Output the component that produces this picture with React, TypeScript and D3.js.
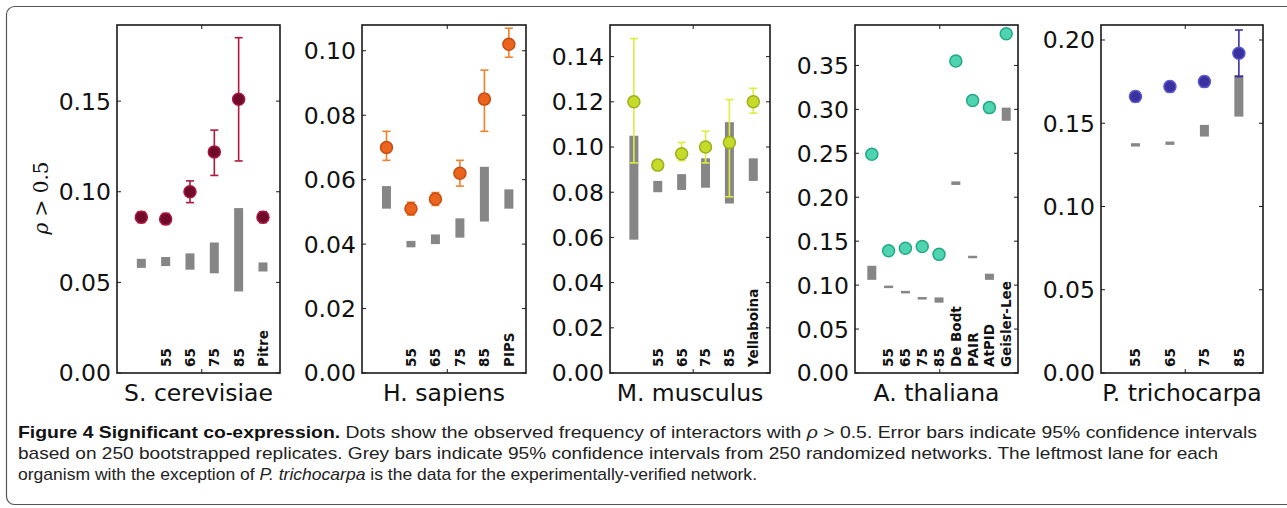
import React, { useLayoutEffect, useRef, useState } from "react";
import * as d3 from "d3";

// ---------- DATA ----------
const scerLabels = ["", "55", "65", "75", "85", "Pitre"];
const scerDots = [0.086, 0.085, 0.100, 0.122, 0.151, 0.086];
const scerErrLo = [0.083, 0.082, 0.094, 0.109, 0.117, 0.083];
const scerErrHi = [0.089, 0.088, 0.106, 0.134, 0.185, 0.089];
const scerGreyLo = [0.058, 0.059, 0.057, 0.055, 0.045, 0.056];
const scerGreyHi = [0.063, 0.064, 0.066, 0.072, 0.091, 0.061];
const scerTicks = [0.0, 0.05, 0.1, 0.15];

const hsapLabels = ["", "55", "65", "75", "85", "PIPS"];
const hsapDots = [0.070, 0.051, 0.054, 0.062, 0.085, 0.102];
const hsapErrLo = [0.066, 0.049, 0.052, 0.058, 0.075, 0.098];
const hsapErrHi = [0.075, 0.053, 0.056, 0.066, 0.094, 0.107];
const hsapGreyLo = [0.051, 0.039, 0.040, 0.042, 0.047, 0.051];
const hsapGreyHi = [0.058, 0.041, 0.043, 0.048, 0.064, 0.057];
const hsapTicks = [0.0, 0.02, 0.04, 0.06, 0.08, 0.1];

const mmusLabels = ["", "55", "65", "75", "85", "Yellaboina"];
const mmusDots = [0.120, 0.092, 0.097, 0.100, 0.102, 0.120];
const mmusErrLo = [0.093, 0.090, 0.094, 0.093, 0.078, 0.115];
const mmusErrHi = [0.148, 0.094, 0.102, 0.107, 0.121, 0.126];
const mmusGreyLo = [0.059, 0.080, 0.081, 0.082, 0.075, 0.085];
const mmusGreyHi = [0.105, 0.085, 0.088, 0.095, 0.111, 0.095];
const mmusTicks = [0.0, 0.02, 0.04, 0.06, 0.08, 0.1, 0.12, 0.14];

const athaLabels = ["", "55", "65", "75", "85", "De Bodt", "PAIR", "AtPID", "Geisler-Lee"];
const athaDots = [0.249, 0.139, 0.142, 0.144, 0.135, 0.355, 0.310, 0.302, 0.386];
const athaErrLo = [0.245, 0.136, 0.139, 0.141, 0.131, 0.351, 0.307, 0.298, 0.382];
const athaErrHi = [0.253, 0.142, 0.145, 0.147, 0.139, 0.359, 0.313, 0.306, 0.390];
const athaGreyLo = [0.106, 0.097, 0.091, 0.084, 0.080, 0.214, 0.131, 0.106, 0.287];
const athaGreyHi = [0.122, 0.099, 0.093, 0.086, 0.086, 0.218, 0.133, 0.113, 0.302];
const athaTicks = [0.0, 0.05, 0.1, 0.15, 0.2, 0.25, 0.3, 0.35];

const ptriLabels = ["55", "65", "75", "85"];
const ptriDots = [0.166, 0.172, 0.175, 0.192];
const ptriErrLo = [0.163, 0.169, 0.172, 0.178];
const ptriErrHi = [0.169, 0.175, 0.178, 0.206];
const ptriGreyLo = [0.136, 0.137, 0.142, 0.154];
const ptriGreyHi = [0.138, 0.139, 0.149, 0.179];
const ptriTicks = [0.0, 0.05, 0.1, 0.15, 0.2];

const organisms = ["S. cerevisiae", "H. sapiens", "M. musculus", "A. thaliana", "P. trichocarpa"];
const yMaxes = [0.192, 0.108, 0.154, 0.396, 0.209];

const captionLines = [
  [
    { t: "Figure 4 Significant co-expression.", b: true },
    { t: "Dots show the observed frequency of interactors with" },
    { t: "ρ", i: true },
    { t: "> 0.5. Error bars indicate 95% confidence intervals" },
  ],
  [
    {
      t: "based on 250 bootstrapped replicates. Grey bars indicate 95% confidence intervals from 250 randomized networks. The leftmost lane for each",
    },
  ],
  [
    { t: "organism with the exception of" },
    { t: "P. trichocarpa", i: true },
    { t: "is the data for the experimentally-verified network." },
  ],
];

// ---------- LAYOUT / STYLE ----------
const TOP = 25;
const BOTTOM = 373;
const panelX: [number, number][] = [
  [117, 280],
  [362, 526],
  [610, 770],
  [855, 1018],
  [1101, 1263],
];
const styles = [
  { fill: "#6f0a2b", stroke: "#a8163f", err: "#b3173f" },
  { fill: "#ea641e", stroke: "#c84c12", err: "#f3802c" },
  { fill: "#c6da2a", stroke: "#9caf1e", err: "#dcee3e" },
  { fill: "#4fd4b2", stroke: "#25a886", err: "#4fd4b2" },
  { fill: "#3b309f", stroke: "#5a58cf", err: "#3b309f" },
];

const panelsData = [
  { labels: scerLabels, dots: scerDots, lo: scerErrLo, hi: scerErrHi, glo: scerGreyLo, ghi: scerGreyHi, ticks: scerTicks },
  { labels: hsapLabels, dots: hsapDots, lo: hsapErrLo, hi: hsapErrHi, glo: hsapGreyLo, ghi: hsapGreyHi, ticks: hsapTicks },
  { labels: mmusLabels, dots: mmusDots, lo: mmusErrLo, hi: mmusErrHi, glo: mmusGreyLo, ghi: mmusGreyHi, ticks: mmusTicks },
  { labels: athaLabels, dots: athaDots, lo: athaErrLo, hi: athaErrHi, glo: athaGreyLo, ghi: athaGreyHi, ticks: athaTicks },
  { labels: ptriLabels, dots: ptriDots, lo: ptriErrLo, hi: ptriErrHi, glo: ptriGreyLo, ghi: ptriGreyHi, ticks: ptriTicks },
];

const FONT = "'DejaVu Sans', sans-serif";
const fmt = d3.format(".2f");

function Panel({ i }: { i: number }) {
  const p = panelsData[i];
  const [x0, x1] = panelX[i];
  const n = p.dots.length;
  const x = d3.scaleLinear().domain([-1, n - 0.3]).range([x0, x1]);
  const y = d3.scaleLinear().domain([0, yMaxes[i]]).range([BOTTOM, TOP]);
  const st = styles[i];
  const lanes = d3.range(n);
  const midTick = x0 + (x1 - x0) * 0.52;
  return (
    <g>
      {lanes.map((k) => {
        const yt = y(p.ghi[k]);
        const yb = y(p.glo[k]);
        const h = Math.max(yb - yt, 2.5);
        return (
          <rect key={"g" + k} x={x(k) - 4.5} y={(yt + yb) / 2 - h / 2} width={9} height={h} fill="#868686" />
        );
      })}
      {lanes.map((k) => (
        <g key={"e" + k} stroke={st.err} strokeWidth={1.6}>
          <line x1={x(k)} x2={x(k)} y1={y(p.lo[k])} y2={y(p.hi[k])} />
          <line x1={x(k) - 4} x2={x(k) + 4} y1={y(p.lo[k])} y2={y(p.lo[k])} />
          <line x1={x(k) - 4} x2={x(k) + 4} y1={y(p.hi[k])} y2={y(p.hi[k])} />
        </g>
      ))}
      {lanes.map((k) => (
        <circle key={"d" + k} cx={x(k)} cy={y(p.dots[k])} r={6} fill={st.fill} stroke={st.stroke} strokeWidth={1.5} />
      ))}
      {lanes.map((k) =>
        p.labels[k] ? (
          <text
            key={"l" + k}
            transform={`translate(${x(k)},${BOTTOM - 6}) rotate(-90)`}
            dy="0.36em"
            fontFamily={FONT}
            fontWeight="bold"
            fontSize={13.5}
            fill="#111"
          >
            {p.labels[k]}
          </text>
        ) : null
      )}
      <rect x={x0} y={TOP} width={x1 - x0} height={BOTTOM - TOP} fill="none" stroke="#1a1a1a" strokeWidth={1.6} />
      {p.ticks.map((t) => (
        <g key={"t" + t}>
          <line x1={x0} x2={x0 + 4} y1={y(t)} y2={y(t)} stroke="#1a1a1a" strokeWidth={1} />
          <line x1={x1 - 4} x2={x1} y1={y(t)} y2={y(t)} stroke="#1a1a1a" strokeWidth={1} />
          <text x={x0 - 6} y={y(t)} dy="0.36em" textAnchor="end" fontFamily={FONT} fontSize={23.5} fill="#111">
            {fmt(t)}
          </text>
        </g>
      ))}
      <line x1={midTick} x2={midTick} y1={TOP} y2={TOP + 4} stroke="#1a1a1a" strokeWidth={1} />
      <line x1={midTick} x2={midTick} y1={BOTTOM} y2={BOTTOM - 4} stroke="#1a1a1a" strokeWidth={1} />
      <text x={(x0 + x1) / 2} y={401} textAnchor="middle" fontFamily={FONT} fontSize={23.5} fill="#111">
        {organisms[i]}
      </text>
    </g>
  );
}

const CAP = "'Liberation Sans', Arial, sans-serif";
const CAP_SIZE = 17;
const CAP_X = 18;
const CAP_Y = [438, 459, 480];
const LINE_TARGET = [1239, 1200, 739];

function Caption() {
  const refs = useRef<(SVGTextElement | null)[][]>(captionLines.map(() => []));
  const [widths, setWidths] = useState<number[][] | null>(null);
  useLayoutEffect(() => {
    const w = captionLines.map((line, li) =>
      line.map((_, si) => {
        const el = refs.current[li][si];
        return el ? el.getComputedTextLength() : 0;
      })
    );
    setWidths(w);
  }, []);
  const gap = CAP_SIZE * 0.278;
  return (
    <g>
      {captionLines.map((line, li) => {
        let k = 1;
        if (widths) {
          const tot = d3.sum(widths[li]) + gap * (widths[li].length - 1);
          k = LINE_TARGET[li] / tot;
        }
        let cx = CAP_X;
        return line.map((seg: any, si) => {
          const w = widths ? widths[li][si] * k : 0;
          const xPos = cx;
          cx += w + gap * k;
          return (
            <text
              key={li + "-" + si}
              ref={(el) => {
                refs.current[li][si] = el;
              }}
              x={xPos}
              y={CAP_Y[li]}
              fontFamily={CAP}
              fontSize={CAP_SIZE}
              fontWeight={seg.b ? "bold" : "normal"}
              fontStyle={seg.i ? "italic" : "normal"}
              fill={seg.b ? "#111" : "#222"}
              {...(widths ? { textLength: w, lengthAdjust: "spacingAndGlyphs" } : {})}
            >
              {seg.t}
            </text>
          );
        });
      })}
    </g>
  );
}

export default function App() {
  return (
    <svg width={1287} height={508} style={{ position: "absolute", left: 0, top: 0, background: "#fff" }}>
      <rect x={0} y={0} width={1287} height={508} fill="#fff" />
      <rect x={6.5} y={6.5} width={1300} height={498} rx={8} fill="none" stroke="#555" strokeWidth={1.2} />
      {d3.range(5).map((i) => (
        <Panel key={i} i={i} />
      ))}
      <text
        transform="translate(42,198) rotate(-90)"
        dy="0.3em"
        textAnchor="middle"
        fontFamily="'DejaVu Serif', 'Liberation Serif', serif"
        fontSize={20}
        fill="#111"
      >
        <tspan fontStyle="italic">ρ</tspan>
        <tspan> &gt; 0.5</tspan>
      </text>
      <Caption />
    </svg>
  );
}
